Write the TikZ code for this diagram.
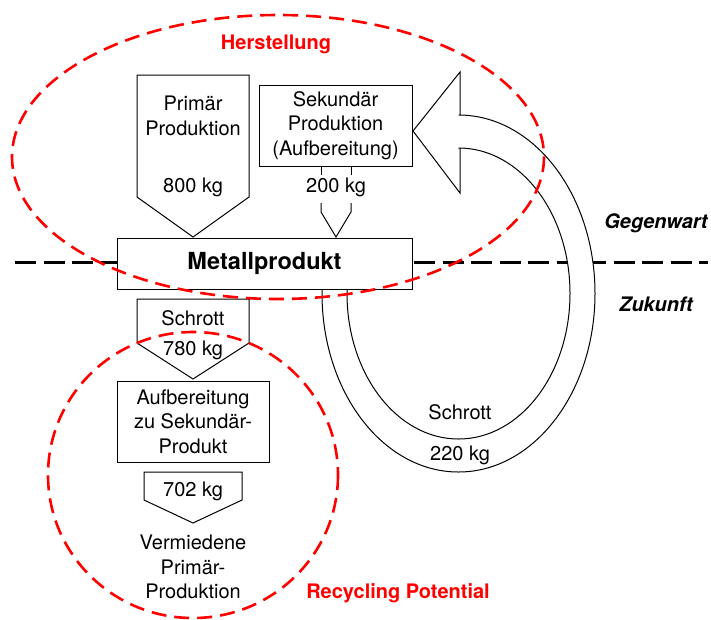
\documentclass[tikz,border=0pt]{standalone}
\usepackage{fontspec}
\setmainfont{TeX Gyre Heros}
\begin{document}
\begin{tikzpicture}[x=1pt,y=-1pt,
  txt/.style={inner sep=0pt,align=center,font=\fontsize{20}{24.5}\selectfont},
  boxed/.style={draw,line width=1pt,fill=white,inner sep=0pt,align=center,font=\fontsize{20}{24.5}\selectfont},
  shp/.style={draw,line width=1pt,fill=white,line join=miter},
  reddash/.style={draw=red,line width=2.6pt,dash pattern=on 15pt off 8pt},
  redlbl/.style={inner sep=0pt,text=red,font=\fontsize{20}{24}\selectfont\bfseries},
  timelbl/.style={inner sep=0pt,font=\fontsize{20}{24}\selectfont\bfseries\itshape}]
\useasboundingbox (0,0) rectangle (711,619);

% time line
\coordinate (tl) at (15,262);
\coordinate (tr) at (708,262);
\draw[line width=3pt,dash pattern=on 21pt off 7.5pt] (tl) -- (tr);

% big curved return arrow (Schrott 220 kg)
\draw[shp]
  (322,289) -- (322,293.5)
  .. controls (322,392.1) and (383.1,472) .. (458.5,472)
  .. controls (533.9,472) and (595,392.1) .. (595,293.5)
  .. controls (595,194.9) and (533.9,115) .. (458.5,115)
  -- (460,115) -- (460,72) -- (413,131) -- (460,193) -- (460,148) -- (458.5,148)
  .. controls (520.1,148) and (570,213.1) .. (570,293.5)
  .. controls (570,373.9) and (520.1,439) .. (458.5,439)
  .. controls (396.9,439) and (347,373.9) .. (347,293.5)
  -- (347,289);
\node[txt] (s220a) at (460,412) {Schrott};
\node[txt] (s220b) at (460,455) {220 kg};

% Primaer Produktion arrow
\draw[shp] (137,75) -- (249,75) -- (249,197) -- (193,237) -- (137,197) -- cycle;
\node[txt] (prim) at (193,116) {Primär\\Produktion};
\node[txt] (p800) at (193,187) {800 kg};

% Sekundaer box
\node[boxed,minimum width=153pt,minimum height=81pt] (sek) at (335.5,125.5) {Sekundär\\Produktion\\(Aufbereitung)};
\draw[line width=1pt] (321,166) -- (321,175);
\draw[line width=1pt] (351,166) -- (351,175);
\node[txt] (s200) at (336,187) {200 kg};
\draw[line width=1pt,line join=miter] (321,203) -- (321,212) -- (336,237) -- (351,212) -- (351,203);

% Metallprodukt
\node[boxed,minimum width=295pt,minimum height=51pt,font=\fontsize{23.5}{28}\selectfont\bfseries] (metall) at (264.5,263.5) {Metallprodukt};

% Schrott 780 kg arrow
\draw[shp] (137,299) -- (249,299) -- (249,343) -- (193,379) -- (137,343) -- cycle;
\node[txt] (s780a) at (193,318) {Schrott};
\node[txt] (s780b) at (193,350) {780 kg};

% Aufbereitung box
\node[boxed,minimum width=152pt,minimum height=81pt] (aufb) at (193,421.5) {Aufbereitung\\zu Sekundär-\\Produkt};

% 702 kg arrow
\draw[shp] (144,472) -- (242,472) -- (242,500) -- (193,523) -- (144,500) -- cycle;
\node[txt] (s702) at (193,491) {702 kg};

\node[txt] (verm) at (193,567) {Vermiedene\\Primär-\\Produktion};

% red regions
\draw[reddash] (278,157) ellipse [x radius=266, y radius=142];
\draw[reddash] (193,475) ellipse [x radius=145, y radius=143];
\node[redlbl] (herst) at (276,44) {Herstellung};
\node[redlbl] (recyc) at (398,593) {Recycling Potential};

% time labels
\node[timelbl] (gegen) at (656,223) {Gegenwart};
\node[timelbl] (zuk) at (656,304) {Zukunft};
\end{tikzpicture}
\end{document}
